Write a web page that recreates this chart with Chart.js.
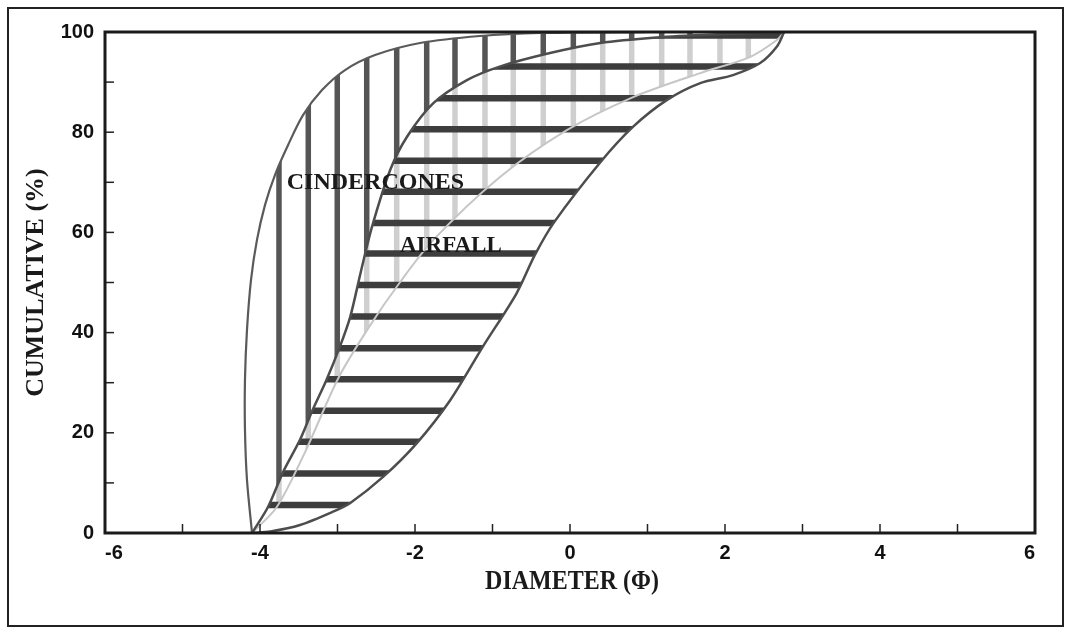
<!DOCTYPE html>
<html>
<head>
<meta charset="utf-8">
<title>Cumulative curves</title>
<script src="https://cdn.jsdelivr.net/npm/chart.js@4.4.0/dist/chart.umd.min.js"></script>
<style>
html, body { margin:0; padding:0; background:#fff; }
canvas { display:block; }
</style>
</head>
<body>
<canvas id="grafico" width="1071" height="633"></canvas>
<script>

// ================================
// DATOS (diametro phi / acumulado %)
// ================================

const cinderOuterX = [-4.103,-4.168,-4.194,-4.194,-4.168,-4.116,-4.039,-3.935,-3.806,-3.639,-3.445,-3.200,-2.903,-2.516,-1.935,-1.161,-0.387,1.030,2.763];
const cinderOuterY = [0,10.6,20.6,30.5,40.5,50.5,58.5,65.5,71.5,77.4,83.4,88.4,92.4,95.4,97.8,99.2,99.8,100,100];

const cinderInnerX = [-4.103,-3.783,-3.423,-2.990,-2.598,-2.196,-1.763,-0.907,-0.041,0.815,1.681,2.320,2.670,2.763];
const cinderInnerY = [0,5.2,16,30.9,41,50,58.5,71,80.4,87,91.8,95,98.4,100];

const airfallLeftX = [-4.103,-3.897,-3.701,-3.484,-3.320,-3.144,-2.969,-2.835,-2.701,-2.557,-2.319,-2.103,-1.763,-1.330,-0.907,-0.258,0.392,1.114,1.835,2.763];
const airfallLeftY = [0,5.2,12.2,18.6,24.6,30.5,37.2,43.2,52,61,72.5,79.1,85.8,90.4,93.1,95.8,97.8,98.9,99.5,100];

const airfallRightX = [-4.103,-3.866,-3.484,-3.051,-2.835,-2.412,-1.979,-1.546,-1.124,-0.691,-0.453,-0.206,0.392,0.815,1.248,1.681,2.103,2.454,2.670,2.763];
const airfallRightY = [0,0.3,1.6,4.3,6,11.2,17.9,26.5,37.2,47.8,55.5,62,74,81.1,86.4,89.8,91.4,93.8,97.1,100];

// rayado vertical (cindercones) y horizontal (airfall)
const hatchX = [-3.755,-3.377,-3.003,-2.623,-2.236,-1.849,-1.484,-1.097,-0.732,-0.345,0.043,0.422,0.796,1.183,1.548,1.935,2.301];
const hatchY = [5.6,11.9,18.2,24.4,30.7,36.9,43.2,49.5,55.8,61.9,68.1,74.3,80.6,86.8,93.1,99.3];

const xLabels = [-6,-4,-2,0,2,4,6];
const yLabels = [0,20,40,60,80,100];

function puntos(xs, ys){
    return xs.map((x,i)=>({x:x, y:ys[i]}));
}

// recorre los puntos de una linea siguiendo las curvas de Chart.js
function trazar(c, pts, reverse, first){
    const n = pts.length;
    const lista = reverse ? pts.slice().reverse() : pts;
    if(first){ c.moveTo(lista[0].x, lista[0].y); }
    else { c.lineTo(lista[0].x, lista[0].y); }
    for(let i=1;i<n;i++){
        const a = lista[i-1], b = lista[i];
        if(a.cp1x === undefined){ c.lineTo(b.x, b.y); continue; }
        if(!reverse){
            c.bezierCurveTo(a.cp2x, a.cp2y, b.cp1x, b.cp1y, b.x, b.y);
        } else {
            c.bezierCurveTo(a.cp1x, a.cp1y, b.cp2x, b.cp2y, b.x, b.y);
        }
    }
}

// ================================
// PLUGINS
// ================================

const fondo = {
    id:'fondo',
    beforeDraw(chart){
        const c = chart.ctx;
        c.save();
        c.fillStyle = '#fff';
        c.fillRect(0,0,chart.width,chart.height);
        c.restore();
    }
};

const rayado = {
    id:'rayado',
    beforeDatasetsDraw(chart){
        const c = chart.ctx;
        const area = chart.chartArea;
        const xs = chart.scales.x, ys = chart.scales.y;

        const pts = [0,1,2,3].map(i=>{
            const meta = chart.getDatasetMeta(i);
            meta.dataset.updateControlPoints(area, 'x');
            return meta.data;
        });

        c.save();
        c.beginPath();
        c.rect(area.left, area.top, area.width, area.height);
        c.clip();

        // cindercones: lineas verticales
        c.save();
        c.beginPath();
        trazar(c, pts[2], false, true);
        trazar(c, pts[3], true, false);
        c.closePath();
        c.clip();
        c.strokeStyle = '#555';
        c.lineWidth = 5.5;
        hatchX.forEach(v=>{
            const px = xs.getPixelForValue(v);
            c.beginPath();
            c.moveTo(px, area.top);
            c.lineTo(px, area.bottom);
            c.stroke();
        });
        c.restore();

        // airfall: velo blanco + lineas horizontales
        c.save();
        c.beginPath();
        trazar(c, pts[0], false, true);
        trazar(c, pts[1], true, false);
        c.closePath();
        c.clip();
        c.fillStyle = 'rgba(255,255,255,0.72)';
        c.fillRect(area.left, area.top, area.width, area.height);
        c.strokeStyle = '#3d3d3d';
        c.lineWidth = 6.5;
        hatchY.forEach(v=>{
            const py = ys.getPixelForValue(v);
            c.beginPath();
            c.moveTo(area.left, py);
            c.lineTo(area.right, py);
            c.stroke();
        });
        c.restore();

        c.restore();
    }
};

const marco = {
    id:'marco',
    afterDraw(chart){
        const c = chart.ctx;
        const area = chart.chartArea;
        const xs = chart.scales.x, ys = chart.scales.y;
        c.save();

        // ticks hacia dentro
        c.strokeStyle = '#222';
        c.lineWidth = 1.5;
        xs.ticks.forEach(t=>{
            if(t.value <= xs.min || t.value >= xs.max) return;
            const px = xs.getPixelForValue(t.value);
            c.beginPath();
            c.moveTo(px, area.bottom);
            c.lineTo(px, area.bottom - 9);
            c.stroke();
        });
        ys.ticks.forEach(t=>{
            if(t.value <= ys.min || t.value >= ys.max) return;
            const py = ys.getPixelForValue(t.value);
            c.beginPath();
            c.moveTo(area.left, py);
            c.lineTo(area.left + 9, py);
            c.stroke();
        });

        // caja del grafico
        c.strokeStyle = '#1a1a1a';
        c.lineWidth = 3;
        c.strokeRect(area.left, area.top, area.width, area.height);

        // marco exterior
        c.strokeStyle = '#222';
        c.lineWidth = 2;
        c.strokeRect(8, 8, 1055, 618);

        // rotulos
        c.fillStyle = '#1a1a1a';
        c.textAlign = 'left';
        c.textBaseline = 'alphabetic';
        c.font = 'bold 24px "Liberation Serif"';
        c.fillText('CINDERCONES', xs.getPixelForValue(-3.655), ys.getPixelForValue(68.6));
        c.font = 'bold 23px "Liberation Serif"';
        c.fillText('AIRFALL', xs.getPixelForValue(-2.194), ys.getPixelForValue(56.1));

        // titulos de ejes
        c.textAlign = 'center';
        c.textBaseline = 'middle';
        c.save();
        c.translate(572, 582);
        c.scale(1, 1.12);
        c.font = 'bold 24px "Liberation Serif"';
        c.fillText('DIAMETER (\u03A6)', 0, 0);
        c.restore();

        c.translate(36, (area.top + area.bottom) / 2);
        c.rotate(-Math.PI/2);
        c.font = 'bold 26px "Liberation Serif"';
        c.fillText('CUMULATIVE (%)', 0, 0);

        c.restore();
    }
};

// ================================
// GRAFICO
// ================================

Chart.defaults.font.family = '"Liberation Sans", Arial, sans-serif';

const lineaOscura = {
    borderColor:'#4d4d4d',
    borderWidth:2.5,
    pointRadius:0,
    tension:0.3,
    fill:false
};

const ctx = document.getElementById("grafico");

const grafico = new Chart(ctx, {
    type:'line',
    data:{
        datasets:[
            Object.assign({label:'Airfall left', data:puntos(airfallLeftX, airfallLeftY)}, lineaOscura),
            Object.assign({label:'Airfall right', data:puntos(airfallRightX, airfallRightY)}, lineaOscura),
            Object.assign({label:'Cindercones outer', data:puntos(cinderOuterX, cinderOuterY)}, lineaOscura, {borderColor:'#5a5a5a', borderWidth:2.2}),
            {
                label:'Cindercones inner',
                data:puntos(cinderInnerX, cinderInnerY),
                borderColor:'#c6c6c6',
                borderWidth:2,
                pointRadius:0,
                tension:0.3,
                fill:false
            }
        ]
    },
    options:{
        responsive:false,
        animation:false,
        devicePixelRatio:1,
        layout:{ padding:{ top:32, right:36, left:0, bottom:0 } },
        plugins:{ legend:{display:false}, tooltip:{enabled:false} },
        scales:{
            x:{
                type:'linear',
                min:-6,
                max:6,
                grid:{ display:false },
                border:{ display:false },
                ticks:{
                    stepSize:1,
                    autoSkip:false,
                    maxRotation:0,
                    align:'inner',
                    padding:0,
                    color:'#111',
                    font:{ size:20, weight:'bold' },
                    callback:v=> xLabels.includes(v) ? String(v) : ''
                },
                afterFit:s=>{ s.height = 100; }
            },
            y:{
                type:'linear',
                min:0,
                max:100,
                grid:{ display:false },
                border:{ display:false },
                ticks:{
                    stepSize:10,
                    autoSkip:false,
                    padding:3,
                    color:'#111',
                    font:{ size:20, weight:'bold' },
                    callback:v=> yLabels.includes(v) ? String(v) : ''
                },
                afterFit:s=>{ s.width = 105; }
            }
        }
    },
    plugins:[fondo, rayado, marco]
});

</script>
</body>
</html>
